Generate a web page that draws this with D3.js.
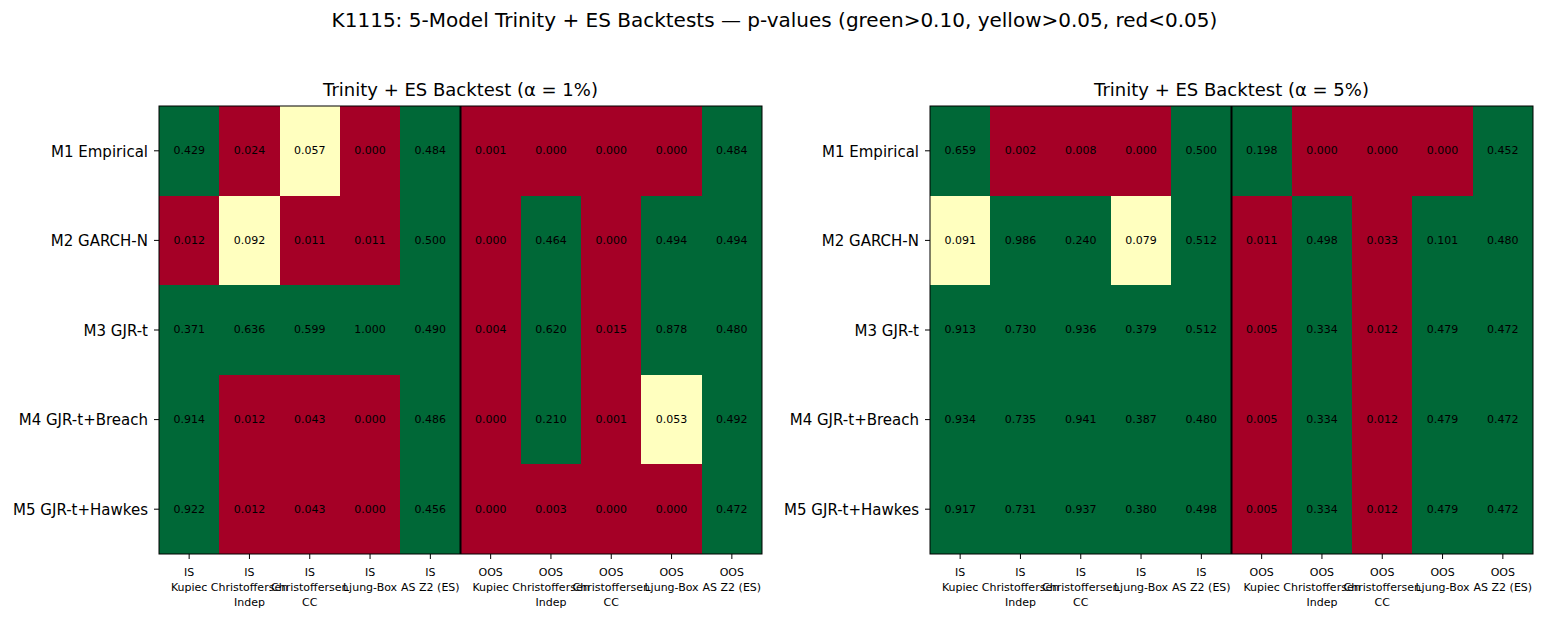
<!DOCTYPE html>
<html>
<head>
<meta charset="utf-8">
<script src="https://cdn.jsdelivr.net/npm/d3@7"></script>
<style>
  html, body { margin: 0; padding: 0; background: #fff; }
  svg { display: block; font-family: "DejaVu Sans", sans-serif; }
</style>
</head>
<body>
<div id="chart"></div>
<script>
// ── Data ───────────────────────────────────────
const MODELS = ["M1 Empirical", "M2 GARCH-N", "M3 GJR-t", "M4 GJR-t+Breach", "M5 GJR-t+Hawkes"];
const TESTS = [
  ["IS", "Kupiec"], ["IS", "Christoffersen", "Indep"], ["IS", "Christoffersen", "CC"],
  ["IS", "Ljung-Box"], ["IS", "AS Z2 (ES)"],
  ["OOS", "Kupiec"], ["OOS", "Christoffersen", "Indep"], ["OOS", "Christoffersen", "CC"],
  ["OOS", "Ljung-Box"], ["OOS", "AS Z2 (ES)"]
];
const PVALS_1 = [
  [0.429, 0.024, 0.057, 0.000, 0.484, 0.001, 0.000, 0.000, 0.000, 0.484],
  [0.012, 0.092, 0.011, 0.011, 0.500, 0.000, 0.464, 0.000, 0.494, 0.494],
  [0.371, 0.636, 0.599, 1.000, 0.490, 0.004, 0.620, 0.015, 0.878, 0.480],
  [0.914, 0.012, 0.043, 0.000, 0.486, 0.000, 0.210, 0.001, 0.053, 0.492],
  [0.922, 0.012, 0.043, 0.000, 0.456, 0.000, 0.003, 0.000, 0.000, 0.472]
];
const PVALS_5 = [
  [0.659, 0.002, 0.008, 0.000, 0.500, 0.198, 0.000, 0.000, 0.000, 0.452],
  [0.091, 0.986, 0.240, 0.079, 0.512, 0.011, 0.498, 0.033, 0.101, 0.480],
  [0.913, 0.730, 0.936, 0.379, 0.512, 0.005, 0.334, 0.012, 0.479, 0.472],
  [0.934, 0.735, 0.941, 0.387, 0.480, 0.005, 0.334, 0.012, 0.479, 0.472],
  [0.917, 0.731, 0.937, 0.380, 0.498, 0.005, 0.334, 0.012, 0.479, 0.472]
];
const THRESHOLDS = [0.05, 0.10];
const COLORS     = ["#a50026", "#ffffbf", "#006837"];

const SUPTITLE = "K1115: 5-Model Trinity + ES Backtests — p-values (green>0.10, yellow>0.05, red<0.05)";
const PANELS = [
  { title: "Trinity + ES Backtest (α = 1%)", values: PVALS_1, left: 159 },
  { title: "Trinity + ES Backtest (α = 5%)", values: PVALS_5, left: 930 }
];

// ── Layout ─────────────────────────────────────
const W = 1545, H = 621;
const TOP = 106, PW = 603, PH = 448;

const svg = d3.select("#chart").append("svg").attr("width", W).attr("height", H);

svg.append("text")
  .attr("x", W / 2 + 2).attr("y", 27)
  .attr("text-anchor", "middle").attr("font-size", "20px").attr("fill", "#000")
  .text(SUPTITLE);

const color = d3.scaleThreshold().domain(THRESHOLDS).range(COLORS);

PANELS.forEach(panel => {
  const g = svg.append("g").attr("transform", `translate(${panel.left},${TOP})`);

  const x = d3.scaleBand().domain(d3.range(TESTS.length)).range([0, PW]);
  const y = d3.scaleBand().domain(MODELS).range([0, PH]);

  const cells = [];
  panel.values.forEach((row, i) => row.forEach((v, j) => cells.push({ m: MODELS[i], j, v })));

  // Cells
  g.selectAll(".cell").data(cells).join("rect")
    .attr("class", "cell")
    .attr("x", d => Math.round(x(d.j))).attr("y", d => Math.round(y(d.m)))
    .attr("width", d => Math.round(x(d.j) + x.bandwidth()) - Math.round(x(d.j)))
    .attr("height", d => Math.round(y(d.m) + y.bandwidth()) - Math.round(y(d.m)))
    .attr("shape-rendering", "crispEdges")
    .attr("fill", d => color(d.v));

  // Cell values
  g.selectAll(".val").data(cells).join("text")
    .attr("class", "val")
    .attr("x", d => x(d.j) + x.bandwidth() / 2)
    .attr("y", d => y(d.m) + y.bandwidth() / 2)
    .attr("dy", "0.3em")
    .attr("text-anchor", "middle").attr("font-size", "11px").attr("fill", "#000")
    .text(d => d3.format(".3f")(d.v));

  // IS / OOS separator
  g.append("line")
    .attr("x1", x(5)).attr("x2", x(5)).attr("y1", 0).attr("y2", PH)
    .attr("stroke", "#000").attr("stroke-width", 2);

  // Frame
  g.append("rect")
    .attr("x", 0).attr("y", 0).attr("width", PW).attr("height", PH)
    .attr("fill", "none").attr("stroke", "#000").attr("stroke-width", 1);

  // Y axis
  const yAxis = g.append("g").call(d3.axisLeft(y).tickSize(5).tickPadding(6));
  yAxis.select(".domain").remove();
  yAxis.selectAll(".tick line").attr("stroke", "#000");
  yAxis.selectAll("text").attr("font-family", "'DejaVu Sans',sans-serif")
    .attr("font-size", "15px").attr("fill", "#000").attr("dy", "0.38em");

  // X axis (multi-line labels)
  const xAxis = g.append("g").attr("transform", `translate(0,${PH})`)
    .call(d3.axisBottom(x).tickSize(5).tickFormat(""));
  xAxis.select(".domain").remove();
  xAxis.selectAll(".tick line").attr("stroke", "#000");
  xAxis.selectAll(".tick").each(function (j) {
    const t = d3.select(this).append("text")
      .attr("y", 22).attr("text-anchor", "middle")
      .attr("font-family", "'DejaVu Sans',sans-serif")
      .attr("font-size", "11px").attr("fill", "#000");
    TESTS[j].forEach((line, k) => {
      t.append("tspan").attr("x", 0).attr("dy", k === 0 ? 0 : 15).text(line);
    });
  });

  // Panel title
  g.append("text")
    .attr("x", PW / 2).attr("y", -10)
    .attr("text-anchor", "middle").attr("font-size", "18px").attr("fill", "#000")
    .text(panel.title);
});
</script>
</body>
</html>
